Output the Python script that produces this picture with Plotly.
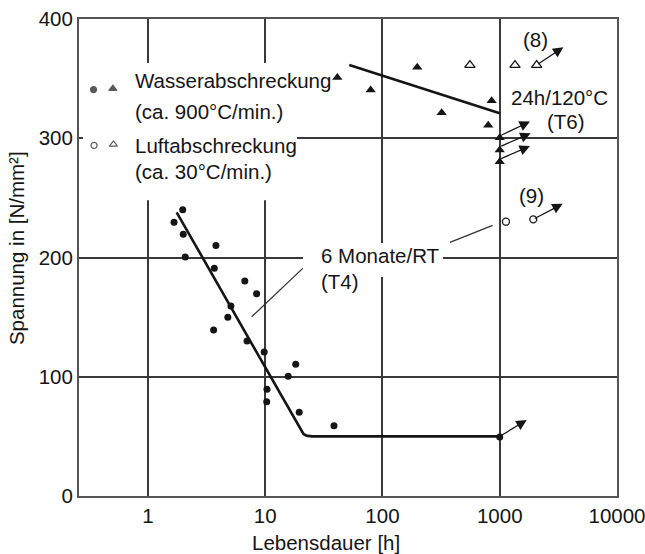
import numpy as np
import plotly.graph_objects as go

# ---------------- data ----------------
# water quenched, 6 Monate/RT (T4) -> filled circles
t4_water_life = [1.98, 1.67, 2.0, 3.8, 2.08, 3.68, 6.7, 8.45, 5.1, 4.8, 3.63, 7.0,
                 9.8, 18.2, 15.7, 10.35, 10.3, 19.5, 38.6, 1000]
t4_water_stress = [240, 229.5, 219.5, 210, 200.5, 191, 180.3, 169.6, 159.3, 150, 139.2, 130,
                   120.8, 110.4, 100.4, 89.5, 79, 70.2, 59, 49.5]
# water quenched, 24h/120°C (T6) -> filled triangles
t6_water_life = [41.2, 79.3, 198, 320, 853, 798, 1000, 1000, 1000]
t6_water_stress = [351, 340.5, 359.5, 321.4, 331.5, 311, 300.5, 290.2, 280.3]
# air quenched T6 (8) -> open triangles
t6_air_life = [557, 1350, 2066]
t6_air_stress = [361.4, 361.4, 361.4]
# air quenched T4 (9) -> open circles
t4_air_life = [1130, 1932]
t4_air_stress = [230, 232]

# fitted curves
t4_curve_life = [1.757, 18.3, 20.1, 21.2, 22.5, 25, 1000]
t4_curve_stress = [237.9, 62, 55, 52, 50.6, 50, 50]
t6_line_life = [52.1, 1000]
t6_line_stress = [361.4, 321]

# run-out arrows (tail -> head)
runout_tail_life = [1000, 1000, 1000, 1000, 2066, 1932]
runout_tail_stress = [50, 301.9, 292.9, 282.4, 361.4, 232]
runout_head_life = [1698, 1811, 1836, 1811, 3490, 3443]
runout_head_stress = [63.7, 314, 304.1, 293.5, 376.3, 245]

# label leader lines
leader_t4_life = [7.66, 20.9]
leader_t4_stress = [150.3, 190.9]
leader_air_life = [376, 870]
leader_air_stress = [212.7, 227]

x_tick_vals = [1, 10, 100, 1000, 10000]
x_tick_text = ["1", "10", "100", "1000", "10000"]
y_tick_vals = [0, 100, 200, 300, 400]
y_tick_text = ["0", "100", "200", "300", "400"]

x_title = "Lebensdauer [h]"
y_title = "Spannung in [N/mm²]"

# ---------------- figure ----------------
INK = "#151515"
FONT = "Liberation Sans, Arial, Helvetica, sans-serif"
FS = 20.5
X_RANGE = [-0.588, 4.0002]
Y_RANGE = [0, 400]

fig = go.Figure()

fig.add_trace(go.Scatter(x=t4_curve_life, y=t4_curve_stress, mode="lines",
                         line=dict(color=INK, width=2.6), hoverinfo="skip"))
fig.add_trace(go.Scatter(x=t6_line_life, y=t6_line_stress, mode="lines",
                         line=dict(color=INK, width=2.6), hoverinfo="skip"))
fig.add_trace(go.Scatter(x=leader_t4_life, y=leader_t4_stress, mode="lines",
                         line=dict(color="#333333", width=1.3), hoverinfo="skip"))
fig.add_trace(go.Scatter(x=leader_air_life, y=leader_air_stress, mode="lines",
                         line=dict(color="#333333", width=1.3), hoverinfo="skip"))

fig.add_trace(go.Scatter(x=t4_water_life, y=t4_water_stress, mode="markers",
                         marker=dict(symbol="circle", size=7, color=INK)))
fig.add_trace(go.Scatter(x=t6_water_life, y=t6_water_stress, mode="markers",
                         marker=dict(symbol="triangle-up", size=9, color=INK)))
fig.add_trace(go.Scatter(x=t6_air_life, y=t6_air_stress, mode="markers",
                         marker=dict(symbol="triangle-up-open", size=9, color=INK,
                                     line=dict(width=1.3, color=INK))))
fig.add_trace(go.Scatter(x=t4_air_life, y=t4_air_stress, mode="markers",
                         marker=dict(symbol="circle-open", size=7, color=INK,
                                     line=dict(width=1.3, color=INK))))

# legend symbols: placed as fractions of the plot area, converted to axis units
leg_fx = [0.027, 0.063, 0.028, 0.064]
leg_fy = [0.852, 0.854, 0.735, 0.737]
leg_sym = ["circle", "triangle-up", "circle-open", "triangle-up-open"]
leg_size = [6, 7, 6, 7]
leg_x = [10 ** (X_RANGE[0] + f * (X_RANGE[1] - X_RANGE[0])) for f in leg_fx]
leg_y = [Y_RANGE[0] + f * (Y_RANGE[1] - Y_RANGE[0]) for f in leg_fy]
fig.add_trace(go.Scatter(x=leg_x, y=leg_y, mode="markers",
                         marker=dict(symbol=leg_sym, size=leg_size, color=INK,
                                     line=dict(width=1.2, color=INK)),
                         hoverinfo="skip"))

annotations = []
for tx, ty, hx, hy in zip(runout_tail_life, runout_tail_stress, runout_head_life, runout_head_stress):
    annotations.append(dict(x=np.log10(hx), y=hy, ax=np.log10(tx), ay=ty,
                            xref="x", yref="y", axref="x", ayref="y", text="",
                            showarrow=True, arrowhead=2, arrowsize=1.6, arrowwidth=1.3,
                            arrowcolor=INK, standoff=0, startstandoff=0))

texts = [
    ("Wasserabschreckung", 0.1004, 0.872, "left"),
    ("(ca. 900°C/min.)", 0.1004, 0.807, "left"),
    ("Luftabschreckung", 0.1004, 0.734, "left"),
    ("(ca. 30°C/min.)", 0.1004, 0.681, "left"),
    ("(8)", 0.849, 0.956, "center"),
    ("24h/120°C", 0.799, 0.836, "left"),
    ("(T6)", 0.866, 0.786, "left"),
    ("(9)", 0.842, 0.631, "center"),
    ("6 Monate/RT", 0.446, 0.505, "left"),
    ("(T4)", 0.446, 0.449, "left"),
]
for t, x, y, xa in texts:
    annotations.append(dict(text=t, x=x, y=y, xref="paper", yref="paper",
                            xanchor=xa, yanchor="middle", showarrow=False,
                            font=dict(family=FONT, size=FS, color=INK)))
annotations.append(dict(text=x_title, x=0.459, y=-0.0985, xref="paper", yref="paper",
                        xanchor="center", yanchor="middle", showarrow=False,
                        font=dict(family=FONT, size=FS, color=INK)))
annotations.append(dict(text=y_title, x=-0.115, y=0.52, xref="paper", yref="paper",
                        xanchor="center", yanchor="middle", showarrow=False, textangle=-90,
                        font=dict(family=FONT, size=FS, color=INK)))

# white patches that break the grid behind the labels (axis data units)
shapes = [
    dict(type="rect", xref="x", yref="y", x0=0.279, x1=18.66, y0=248, y1=363,
         fillcolor="white", line=dict(width=0), layer="between"),
    dict(type="rect", xref="x", yref="y", x0=21.0, x1=328, y0=183.6, y1=212.2,
         fillcolor="white", line=dict(width=0), layer="between"),
]

fig.update_layout(
    width=645, height=554,
    margin=dict(l=79, r=28, t=19, b=58, autoexpand=False),
    paper_bgcolor="white", plot_bgcolor="white",
    showlegend=False,
    font=dict(family=FONT, size=FS, color=INK),
    annotations=annotations,
    shapes=shapes,
    xaxis=dict(type="log", range=X_RANGE, tickvals=x_tick_vals, ticktext=x_tick_text,
               showgrid=True, gridcolor="#3a3a3a", gridwidth=1.5,
               showline=True, linecolor="#555555", linewidth=2, mirror=True,
               ticks="", zeroline=False, ticklabeloverflow="allow", automargin=False,
               tickfont=dict(size=FS, color=INK)),
    yaxis=dict(range=Y_RANGE, tickvals=y_tick_vals, ticktext=y_tick_text,
               showgrid=True, gridcolor="#3a3a3a", gridwidth=1.5,
               showline=True, linecolor="#555555", linewidth=2, mirror=True,
               ticks="", zeroline=False, automargin=False,
               tickfont=dict(size=FS, color=INK)),
)

fig.write_html("out.html", config={"displayModeBar": False},
               post_script="document.body.style.margin='0';")
